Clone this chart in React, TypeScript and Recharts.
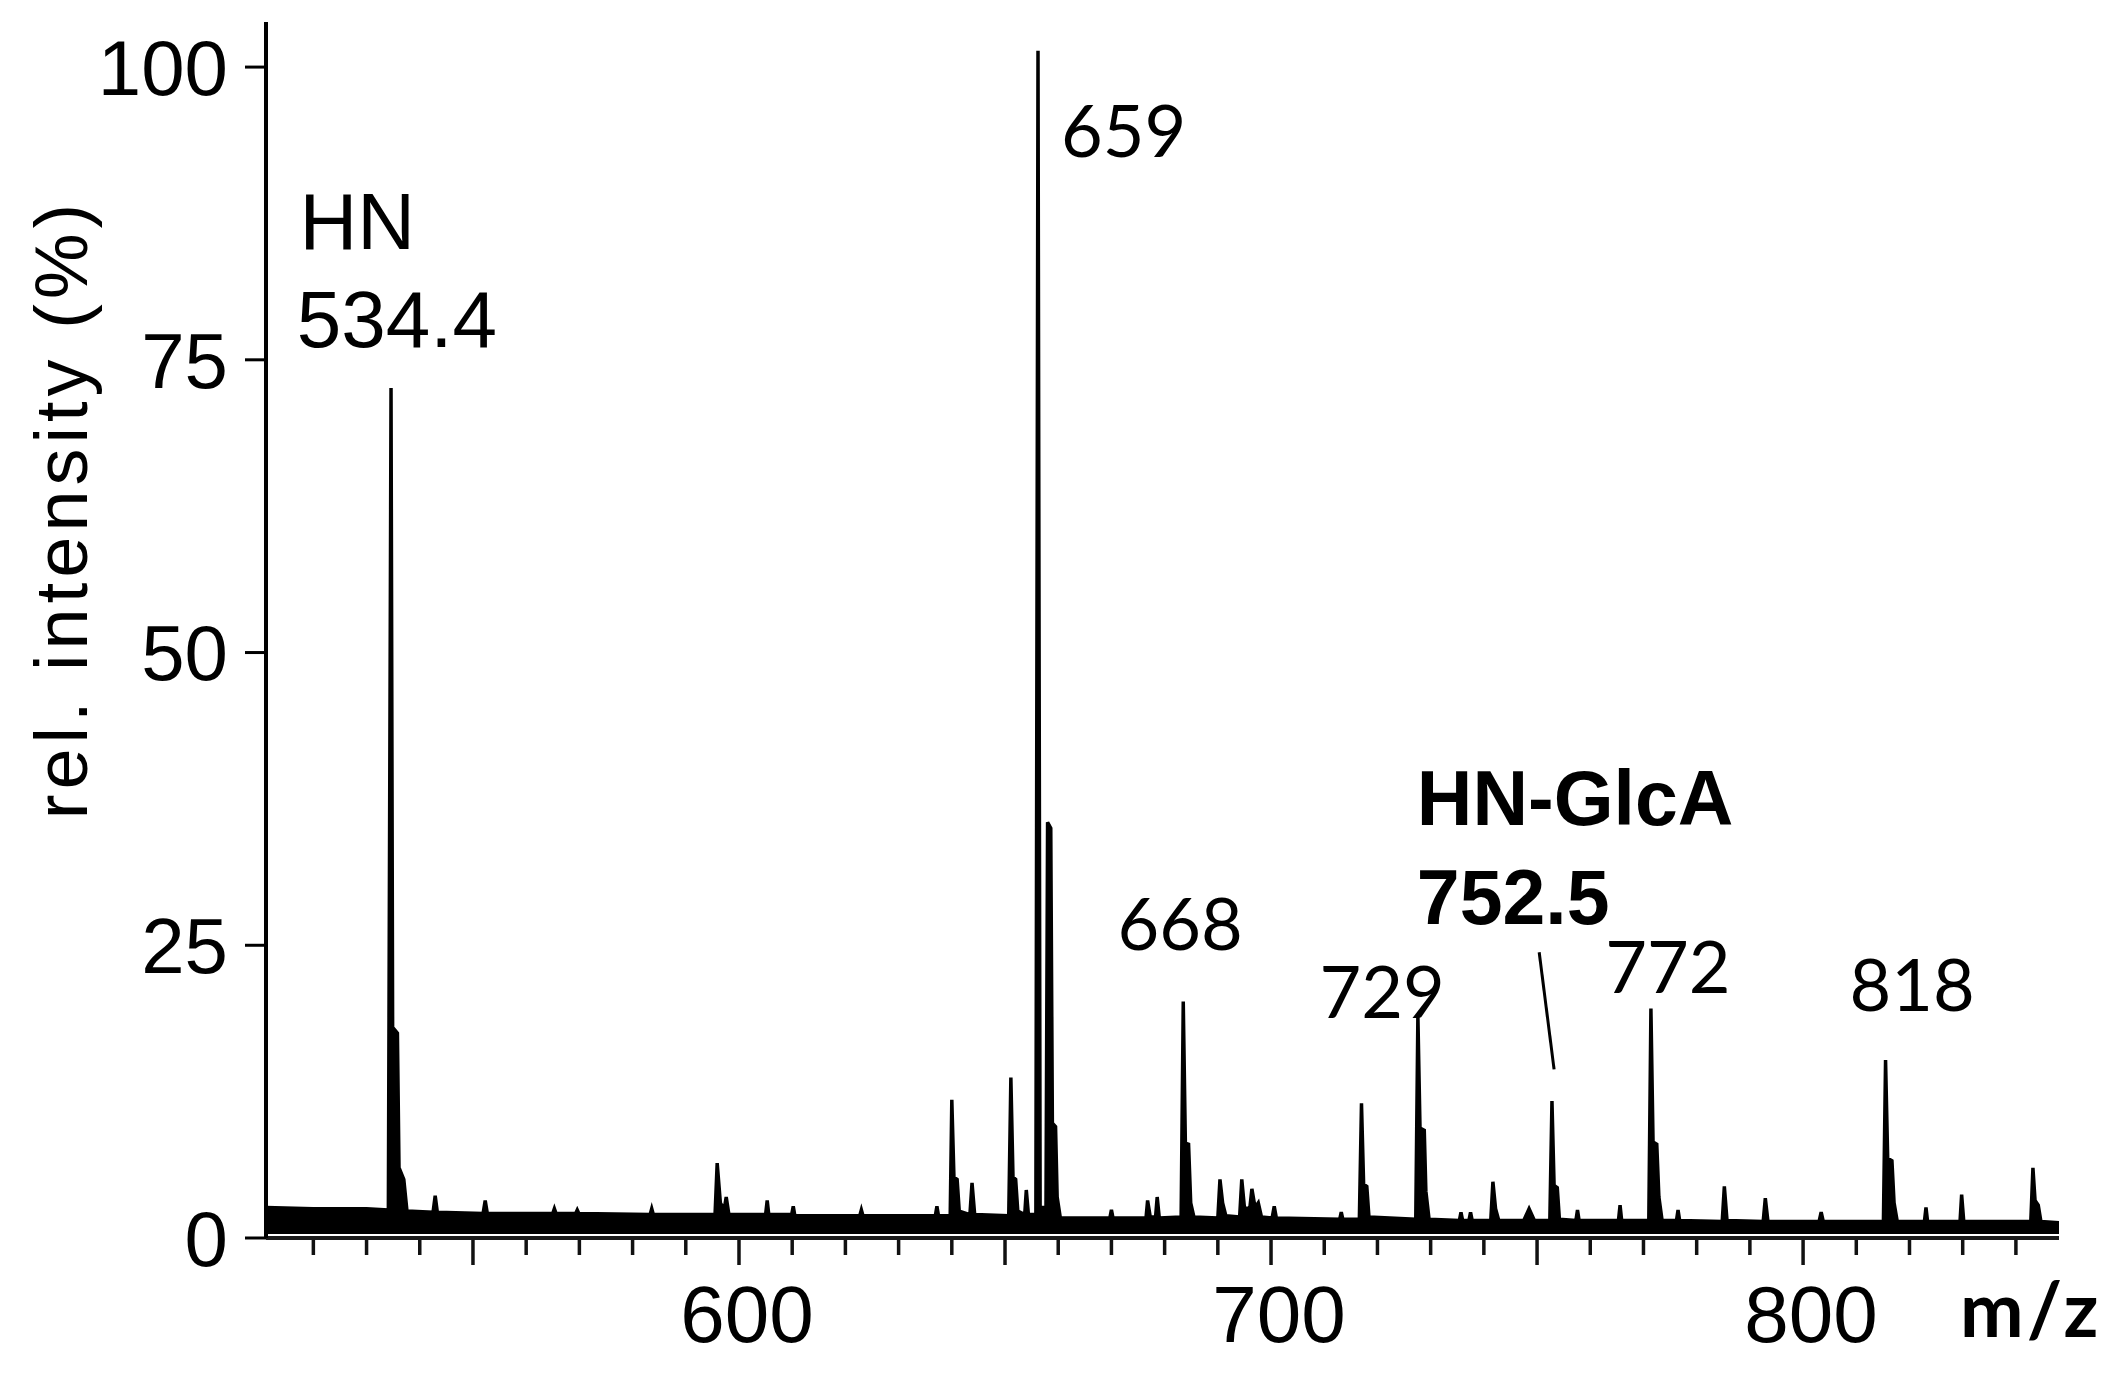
import React from 'react';
import { ComposedChart, Area, XAxis, YAxis, ReferenceDot, ReferenceLine } from 'recharts';

// ---------- data ----------
const xDomain: [number, number] = [511.1, 848.1];
const yDomain: [number, number] = [0, 103.85];
const xTicks = [520, 530, 540, 550, 560, 570, 580, 590, 600, 610, 620, 630, 640, 650, 660, 670, 680, 690, 700, 710, 720, 730, 740, 750, 760, 770, 780, 790, 800, 810, 820, 830, 840];
const xLabeledTicks = [600, 700, 800];
const xLongTicks = [550, 600, 650, 700, 750, 800];
const yTicks = [0, 25, 50, 75, 100];
const noiseFloor = 0.5;

// spectrum trace: [m/z, relative intensity %]
const traceLow: [number, number][] = [
  [511.1, 2.6], [520, 2.5], [530, 2.5], [534.1, 2.4], [534.6, 72.6], [534.9, 18.0], [535.8, 17.5], [536.1, 6.0], [537.0, 5.0], [537.6, 2.3],
  [542.5, 2.2], [542.9, 3.6], [543.3, 2.2],
  [551.9, 2.1], [552.3, 3.2], [552.7, 2.1],
  [565.0, 2.1], [565.3, 2.5], [565.6, 2.1],
  [569.3, 2.1], [569.6, 2.4], [569.9, 2.1],
  [583.3, 2.0], [583.6, 2.5], [583.9, 2.0],
  [595.5, 2.0], [595.9, 6.4], [596.5, 3.0], [597.2, 2.4], [597.6, 3.5], [598.1, 2.0],
];
const traceMid: [number, number][] = [
  [605.0, 2.0], [605.3, 3.2], [605.6, 2.0],
  [609.9, 2.0], [610.2, 2.7], [610.5, 1.9],
  [622.7, 1.9], [623.0, 2.4], [623.3, 1.9],
  [636.9, 1.9], [637.2, 2.7], [637.5, 1.9],
  [639.7, 1.9], [640.0, 11.8], [640.4, 5.2], [641.0, 5.0], [641.4, 2.3],
  [643.4, 2.0], [643.8, 4.7], [644.3, 2.0],
  [650.7, 1.9], [651.1, 13.7], [651.5, 5.2], [652.0, 5.0], [652.4, 2.3],
  [653.7, 2.0], [654.0, 4.1], [654.4, 2.0],
  [655.8, 2.0], [656.2, 101.4], [656.6, 2.6], [657.7, 2.6], [658.0, 35.5], [658.6, 35.0], [658.9, 9.8], [659.5, 9.5], [659.8, 3.5], [660.4, 1.7],
  [669.7, 1.7], [670.0, 2.4], [670.3, 1.7],
  [676.5, 1.7], [676.8, 3.2], [677.3, 1.8], [678.3, 1.8], [678.6, 3.5], [679.0, 1.7],
  [683.1, 1.8], [683.5, 20.2], [683.9, 8.1], [684.5, 8.0], [684.9, 3.0], [685.5, 1.8],
  [690.0, 1.7], [690.4, 5.0], [690.9, 3.0], [691.5, 1.9],
  [694.1, 1.8], [694.5, 5.0], [695.0, 2.6], [696.0, 2.5], [696.4, 4.2], [697.0, 2.6], [697.6, 3.0], [698.2, 1.8],
];
const traceHigh: [number, number][] = [
  [700.2, 1.7], [700.6, 2.7], [701.0, 1.7],
  [712.9, 1.6], [713.2, 2.2], [713.5, 1.6],
  [716.6, 1.6], [717.0, 11.5], [717.4, 4.6], [718.0, 4.4], [718.4, 1.8],
  [727.2, 1.6], [727.6, 19.0], [728.0, 9.4], [728.8, 9.2], [729.1, 4.0], [729.7, 1.6],
  [735.4, 1.5], [735.7, 2.2], [736.0, 1.5], [737.2, 1.5], [737.5, 2.2], [737.8, 1.5],
  [741.3, 1.5], [741.7, 4.8], [742.2, 2.5], [742.8, 1.5],
  [747.5, 1.5], [748.5, 2.5], [749.5, 1.5],
  [752.4, 1.5], [752.8, 11.7], [753.2, 4.5], [753.8, 4.3], [754.2, 1.6],
  [757.3, 1.5], [757.6, 2.4], [757.9, 1.5],
  [765.3, 1.5], [765.6, 2.8], [765.9, 1.5],
  [771.0, 1.5], [771.4, 19.6], [771.8, 8.2], [772.5, 8.0], [772.9, 3.5], [773.5, 1.5],
  [776.2, 1.5], [776.5, 2.4], [776.8, 1.5],
  [784.8, 1.4], [785.2, 4.4], [785.7, 1.5],
  [792.5, 1.4], [792.9, 3.4], [793.4, 1.4],
  [803.0, 1.4], [803.4, 2.2], [803.8, 1.4],
  [815.1, 1.4], [815.5, 15.2], [815.9, 6.8], [816.7, 6.6], [817.1, 3.0], [817.7, 1.4],
  [822.8, 1.4], [823.1, 2.6], [823.4, 1.4],
  [829.5, 1.4], [829.8, 3.7], [830.2, 1.4],
  [842.8, 1.4], [843.2, 6.0], [843.6, 3.2], [844.2, 2.8], [844.7, 1.4],
  [848.1, 1.3],
];

// peak annotations: anchor in data units (m/z, intensity)
const plainLabels = [
  { text: 'HN', mz: 517.4, y: 84.5 },
  { text: '534.4', mz: 516.9, y: 76.1 },
];
const numberLabels = [
  { text: '659', mz: 660.5, y: 92.3, anchor: 'start' },
  { text: '668', mz: 682.9, y: 24.6, anchor: 'middle' },
  { text: '729', mz: 720.9, y: 18.8, anchor: 'middle' },
  { text: '772', mz: 774.6, y: 20.9, anchor: 'middle' },
  { text: '818', mz: 820.5, y: 19.4, anchor: 'middle' },
];
const boldLabels = [
  { text: 'HN-GlcA', mz: 727.4, y: 35.3 },
  { text: '752.5', mz: 727.4, y: 26.8 },
];
const leaderLine = [{ x: 750.4, y: 24.4 }, { x: 753.2, y: 14.4 }];

const tableData = [...traceLow, ...traceMid, ...traceHigh].map(([mz, v]) => ({ mz, band: [noiseFloor, v] }));

// ---------- styles ----------
const ARIAL = 'Liberation Sans, Arial, Helvetica, sans-serif';
const CALIBRI = 'Lato, Open Sans, sans-serif';

const XTick = (props: any) => {
  const { x, y, payload } = props;
  const v = payload.value;
  const long = xLongTicks.includes(v);
  return (
    <g>
      <line x1={x} x2={x} y1={y + 2} y2={y + (long ? 27 : 17)} stroke="#111" strokeWidth={3.5} />
      {xLabeledTicks.includes(v) && (
        <text x={x + 8} y={y + 104} textAnchor="middle" fontSize={80} fontFamily={ARIAL} fill="#000">
          {v}
        </text>
      )}
    </g>
  );
};

const YTitle = (props: any) => {
  const vb = props.viewBox || { x: 0, y: 22 };
  const cx = vb.x + 87;
  const cy = vb.y + 487;
  return (
    <text x={cx} y={cy} transform={`rotate(-90, ${cx}, ${cy})`} textAnchor="middle" fontSize={74} letterSpacing={5} fontFamily={ARIAL} fill="#000">
      rel. intensity (%)
    </text>
  );
};

const XTitle = (props: any) => {
  const vb = props.viewBox || { x: 266, y: 1238, width: 1793 };
  const x = vb.x + vb.width - 99;
  const y = vb.y + 99;
  return (
    <text x={x} y={y} fontSize={76} fontWeight={700} letterSpacing={3} fontFamily={CALIBRI} fill="#000">
      m/z
    </text>
  );
};

export default function App() {
  return (
    <div style={{ position: 'absolute', left: 0, top: 0, width: 2114, height: 1377, background: '#fff' }}>
      <ComposedChart width={2114} height={1377} data={tableData} margin={{ top: 22, right: 55, bottom: 0, left: 0 }}>
        <XAxis
          dataKey="mz"
          type="number"
          domain={xDomain}
          ticks={xTicks}
          interval={0}
          allowDataOverflow
          height={139}
          tickSize={0}
          tickMargin={0}
          tickLine={false}
          tick={<XTick />}
          axisLine={{ stroke: '#1a1a1a', strokeWidth: 4 }}
          label={<XTitle />}
        />
        <YAxis
          type="number"
          domain={yDomain}
          ticks={yTicks}
          interval={0}
          allowDataOverflow
          width={266}
          tickSize={21}
          tickMargin={17}
          tickLine={{ stroke: '#000', strokeWidth: 3 }}
          axisLine={{ stroke: '#000', strokeWidth: 4 }}
          tick={{ fontSize: 78, fill: '#000', fontFamily: ARIAL }}
          label={<YTitle />}
        />
        <Area
          dataKey="band"
          type="linear"
          stroke="#000"
          strokeWidth={3.5}
          strokeLinejoin="miter"
          fill="#000"
          fillOpacity={1}
          dot={false}
          activeDot={false}
          isAnimationActive={false}
        />
        <ReferenceLine segment={leaderLine} stroke="#000" strokeWidth={3} ifOverflow="visible" />
        {plainLabels.map((a) => (
          <ReferenceDot
            key={a.text}
            x={a.mz}
            y={a.y}
            r={0}
            ifOverflow="visible"
            shape={(p: any) => (
              <text x={p.cx} y={p.cy} fontSize={80} fontFamily={ARIAL} fill="#000" textAnchor="start">
                {a.text}
              </text>
            )}
          />
        ))}
        {numberLabels.map((a) => (
          <ReferenceDot
            key={a.text}
            x={a.mz}
            y={a.y}
            r={0}
            ifOverflow="visible"
            shape={(p: any) => (
              <text x={p.cx} y={p.cy} fontSize={72} fontFamily={CALIBRI} fill="#000" textAnchor={a.anchor}>
                {a.text}
              </text>
            )}
          />
        ))}
        {boldLabels.map((a) => (
          <ReferenceDot
            key={a.text}
            x={a.mz}
            y={a.y}
            r={0}
            ifOverflow="visible"
            shape={(p: any) => (
              <text x={p.cx} y={p.cy} fontSize={77} fontWeight={700} fontFamily={ARIAL} fill="#000" textAnchor="start">
                {a.text}
              </text>
            )}
          />
        ))}
      </ComposedChart>
    </div>
  );
}
